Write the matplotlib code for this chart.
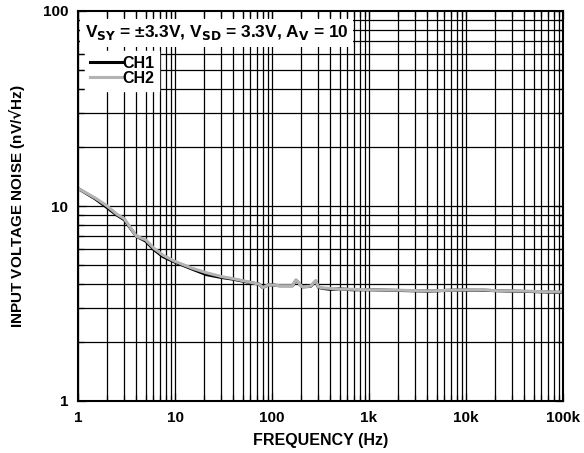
import numpy as np
import matplotlib
matplotlib.use("Agg")
from matplotlib import pyplot as plt

plt.rcParams['font.family'] = ['Liberation Sans', 'DejaVu Sans']
plt.rcParams['font.weight'] = 'bold'
plt.rcParams['mathtext.default'] = 'bf'

# noise density readings (nV/rtHz) vs frequency (Hz)
freq = [1, 1.5, 2, 2.5, 3, 4, 5, 6, 7.5, 10, 15, 21, 30, 39, 55, 74, 80, 93,
        120, 163, 177, 195, 206, 250, 282, 300, 330, 400, 500, 670, 1000,
        2000, 4100, 7000, 13400, 20000, 29500, 50000, 70000, 100000]
ch1 = [12.3, 10.9, 9.8, 9.0, 8.5, 7.0, 6.6, 6.0, 5.5, 5.15, 4.75, 4.45, 4.3,
       4.22, 4.08, 3.97, 3.82, 3.95, 3.9, 3.9, 4.16, 3.95, 3.85, 3.87, 4.12,
       3.84, 3.78, 3.74, 3.76, 3.72, 3.72, 3.69, 3.66, 3.7, 3.71, 3.68, 3.66,
       3.64, 3.62, 3.6]
ch2 = [12.3, 11.0, 10.0, 9.1, 8.6, 7.0, 6.7, 6.1, 5.6, 5.2, 4.8, 4.55, 4.35,
       4.25, 4.1, 3.97, 3.82, 3.95, 3.9, 3.9, 4.18, 3.95, 3.85, 3.88, 4.14,
       3.85, 3.8, 3.78, 3.75, 3.74, 3.72, 3.7, 3.67, 3.7, 3.73, 3.68, 3.67,
       3.65, 3.63, 3.62]

xticks = [1, 10, 100, 1000, 10000, 100000]
xticklabels = ['1', '10', '100', '1k', '10k', '100k']
yticks = [1, 10, 100]
yticklabels = ['1', '10', '100']

fig = plt.figure(figsize=(5.84, 4.53), dpi=100)
ax = fig.add_axes([78/584, 1 - 401/453, (563-78)/584, (401-11)/453])
ax.set_xscale('log')
ax.set_yscale('log')
ax.set_xlim(1, 100000)
ax.set_ylim(1, 100)

# grid drawn by hand so the label boxes can sit over it while ticks stay on top
for d in range(5):
    for m in range(1, 10):
        ax.axvline(m * 10**d, color='black', lw=0.9, zorder=1)
for d in range(2):
    for m in range(1, 10):
        ax.axhline(m * 10**d, color='black', lw=0.9, zorder=1)

ax.plot(freq, ch1, color='black', lw=2.2, zorder=3, label='CH1')
ax.plot(freq, ch2, color='#b3b3b3', lw=2.2, zorder=4, label='CH2')

ax.text(0.014, 0.968,
        r'V$_{SY}$ = ±3.3V, V$_{SD}$ = 3.3V, A$_{V}$ = 10',
        transform=ax.transAxes, ha='left', va='top', fontsize=12.5,
        fontweight='bold', zorder=5,
        bbox=dict(boxstyle='square,pad=0.25', fc='white', ec='none'))

leg = ax.legend(loc='upper left', bbox_to_anchor=(-0.002, 0.918), frameon=True,
                fancybox=False, edgecolor='white', framealpha=1,
                handlelength=2.0, handletextpad=0.05, borderpad=0.3,
                labelspacing=0.0, prop={'weight': 'bold', 'size': 11.5})
leg.set_zorder(5)

ax.set_axisbelow(False)
ax.set_xticks(xticks)
ax.set_xticklabels(xticklabels)
ax.set_yticks(yticks)
ax.set_yticklabels(yticklabels)
ax.tick_params(which='both', direction='in', top=True, right=True,
               labelsize=11, pad=7, width=0.9)
ax.tick_params(which='major', length=6)
ax.tick_params(which='minor', length=4)
for lab in ax.get_xticklabels() + ax.get_yticklabels():
    lab.set_fontweight('bold')
for s in ax.spines.values():
    s.set_linewidth(1.5)
    s.set_zorder(6)

ax.set_xlabel('FREQUENCY (Hz)', fontsize=11.5, fontweight='bold', labelpad=6)
ax.set_ylabel('INPUT VOLTAGE NOISE (nV/$\u221a$Hz)', fontsize=11,
              fontweight='bold', labelpad=11)

fig.savefig('out.png', dpi=100)
